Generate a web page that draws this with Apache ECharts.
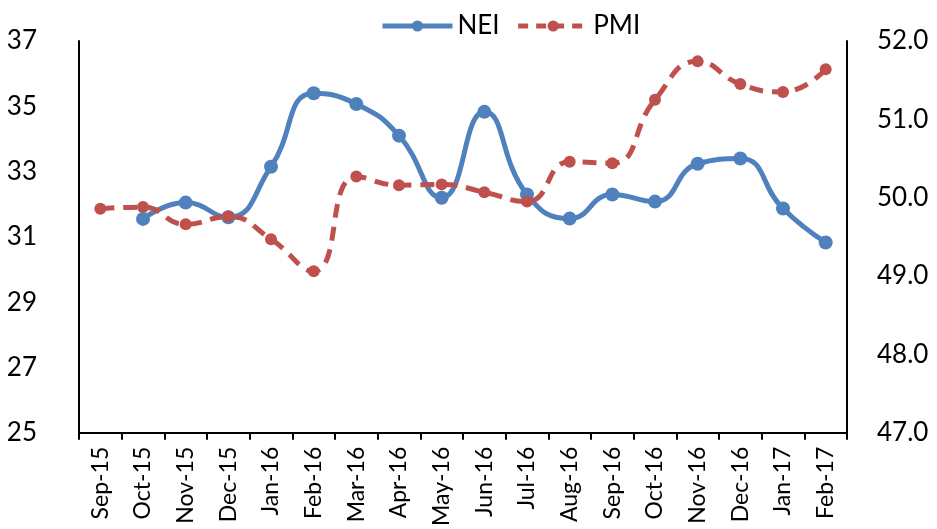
<!DOCTYPE html>
<html>
<head>
<meta charset="utf-8">
<script src="https://cdn.jsdelivr.net/npm/echarts@6/dist/echarts.min.js"></script>
<style>
  html, body { margin: 0; padding: 0; background: #fff; }
  #chart { width: 937px; height: 529px; }
</style>
</head>
<body>
<div id="chart"></div>
<script>
const categories = ['Sep-15','Oct-15','Nov-15','Dec-15','Jan-16','Feb-16','Mar-16','Apr-16','May-16','Jun-16','Jul-16','Aug-16','Sep-16','Oct-16','Nov-16','Dec-16','Jan-17','Feb-17'];
const neiValues = [null, 31.55, 32.05, 31.6, 33.15, 35.4, 35.07, 34.1, 32.2, 34.83, 32.3, 31.56, 32.3, 32.08, 33.24, 33.4, 31.87, 30.83];
const pmiValues = [49.86, 49.88, 49.66, 49.76, 49.47, 49.06, 50.27, 50.16, 50.17, 50.07, 49.95, 50.46, 50.44, 51.25, 51.74, 51.45, 51.35, 51.64];
const leftTicks = { min: 25, max: 37, interval: 2 };
const rightTicks = { min: 47, max: 52, interval: 1 };

const FONT = 'Lato';
const chart = echarts.init(document.getElementById('chart'), null, { renderer: 'canvas' });
chart.setOption({
  animation: false,
  backgroundColor: '#ffffff',
  textStyle: { fontFamily: FONT },
  legend: {
    top: 8,
    left: 375,
    itemWidth: 70,
    itemHeight: 14,
    itemGap: 16,
    textStyle: { fontSize: 26, color: '#000', fontFamily: FONT },
    data: [
      { name: 'NEI', lineStyle: { width: 5, color: '#4F81BD' } },
      { name: 'PMI', lineStyle: { width: 5, color: '#C0504D', type: [10, 8] } }
    ]
  },
  grid: { left: 79, right: 90, top: 41, bottom: 93 },
  xAxis: {
    type: 'category',
    data: categories,
    boundaryGap: true,
    axisLine: { lineStyle: { color: '#000', width: 2 } },
    axisTick: { show: true, length: 7, lineStyle: { color: '#000', width: 2 } },
    axisLabel: { rotate: 90, fontSize: 23, color: '#000', margin: 14, fontFamily: FONT, interval: 0 }
  },
  yAxis: [
    {
      type: 'value',
      min: leftTicks.min, max: leftTicks.max, interval: leftTicks.interval,
      position: 'left',
      axisLine: { show: true, lineStyle: { color: '#000', width: 2 } },
      axisTick: { show: false },
      splitLine: { show: false },
      axisLabel: { fontSize: 26, color: '#000', margin: 42, fontFamily: FONT }
    },
    {
      type: 'value',
      min: rightTicks.min, max: rightTicks.max, interval: rightTicks.interval,
      position: 'right',
      axisLine: { show: true, lineStyle: { color: '#000', width: 2 } },
      axisTick: { show: false },
      splitLine: { show: false },
      axisLabel: { fontSize: 26, color: '#000', margin: 30, fontFamily: FONT,
        formatter: v => v.toFixed(1) }
    }
  ],
  series: [
    {
      name: 'NEI',
      type: 'line',
      yAxisIndex: 0,
      data: neiValues,
      smooth: 0.5,
      connectNulls: false,
      symbol: 'circle',
      symbolSize: 14,
      lineStyle: { color: '#4F81BD', width: 5 },
      itemStyle: { color: '#4F81BD' }
    },
    {
      name: 'PMI',
      type: 'line',
      yAxisIndex: 1,
      data: pmiValues,
      smooth: 0.5,
      symbol: 'circle',
      symbolSize: 12,
      lineStyle: { color: '#C0504D', width: 5, type: [14, 9] },
      itemStyle: { color: '#C0504D' }
    }
  ]
});
</script>
</body>
</html>
